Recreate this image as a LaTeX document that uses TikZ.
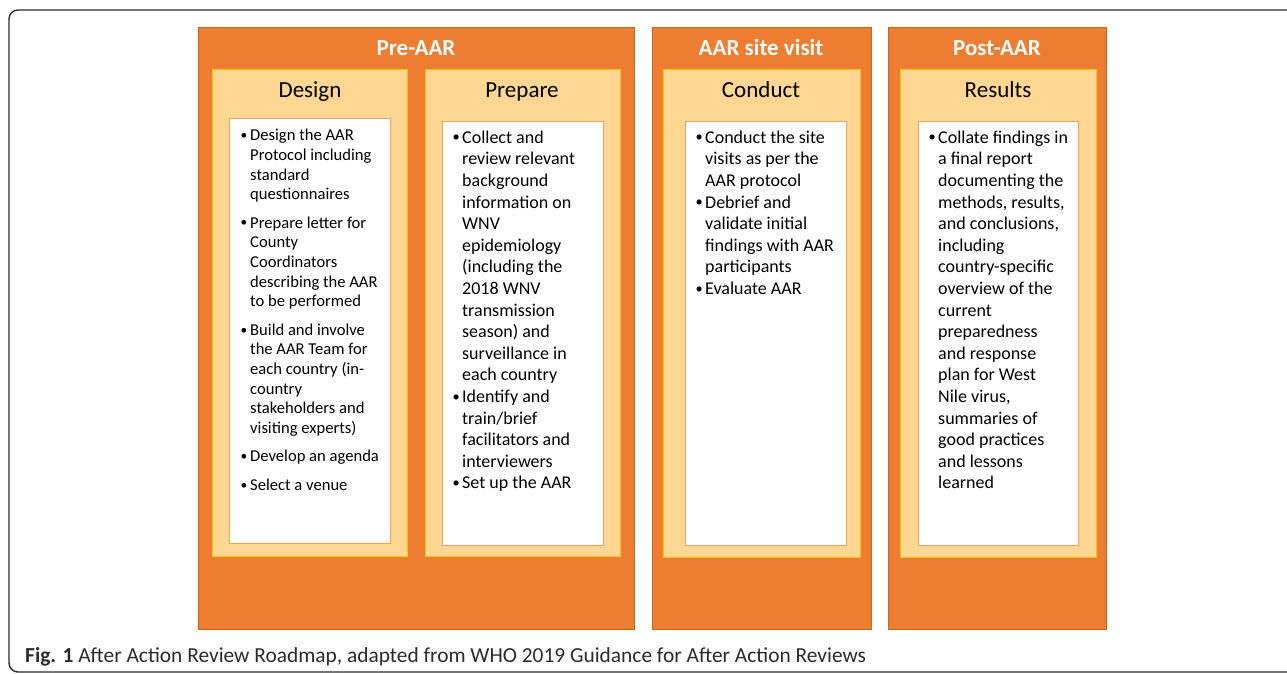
\documentclass[tikz,border=0pt]{standalone}
\usepackage{fontspec}
\usepackage{graphicx}
\setmainfont{Carlito}
\usetikzlibrary{positioning}

\definecolor{phasefill}{HTML}{ED7D31}
\definecolor{phaseline}{HTML}{C8651E}
\definecolor{stagefill}{HTML}{FED893}
\definecolor{stageline}{HTML}{FFC000}
\definecolor{listline}{HTML}{F4A062}
\definecolor{framegray}{HTML}{2B2B2B}

\newcommand{\bl}{\strut\makebox[9.5pt][l]{\raisebox{0.07em}{\scalebox{0.8}{\textbullet}}}}
\newcommand{\ind}{\hspace*{9.5pt}}

\begin{document}
\begin{tikzpicture}[x=1pt, y=-1pt,
	phasebox/.style={draw=phaseline, fill=phasefill, line width=1pt, inner sep=0pt, anchor=north west},
	stagebox/.style={draw=stageline, fill=stagefill, line width=1pt, inner sep=0pt, anchor=north west},
	listbox/.style={draw=listline, fill=white, line width=1pt, inner sep=0pt, anchor=north west},
	phasetitle/.style={anchor=base, inner sep=0pt, text=white, font=\fontsize{23}{27}\selectfont\bfseries},
	stagetitle/.style={anchor=base, inner sep=0pt, text=black, font=\fontsize{23}{27}\selectfont},
	listtext/.style={anchor=north west, inner sep=0pt, align=left, font=\fontsize{18}{21.6}\selectfont},
	]
	
	\useasboundingbox (0,0) rectangle (1287,674);
	\draw[framegray, line width=1.4pt, rounded corners=9pt] (1320,10) -- (9,10) -- (9,672) -- (1320,672);
	
	% phases
	\node[phasebox, minimum width=436pt, minimum height=602pt] (pre) at (198,27) {};
	\node[phasebox, minimum width=219pt, minimum height=602pt] (visit) at (652,27) {};
	\node[phasebox, minimum width=218pt, minimum height=602pt] (post) at (888,27) {};
	
	\node[phasetitle] (pretitle) at (416,55.7) {Pre-AAR};
	\node[phasetitle] (visittitle) at (761,55.7) {AAR site visit};
	\node[phasetitle] (posttitle) at (997,55.7) {Post-AAR};
	
	% stages
	\node[stagebox, minimum width=195pt, minimum height=487pt] (design) at (212,69) {};
	\node[stagebox, minimum width=195pt, minimum height=487pt] (prepare) at (425,69) {};
	\node[stagebox, minimum width=197pt, minimum height=488pt] (conduct) at (663,69) {};
	\node[stagebox, minimum width=196pt, minimum height=488pt] (results) at (900,69) {};
	
	\node[stagetitle] (designtitle) at (310,97.3) {Design};
	\node[stagetitle] (preparetitle) at (522,97.3) {Prepare};
	\node[stagetitle] (conducttitle) at (761,97.3) {Conduct};
	\node[stagetitle] (resultstitle) at (998,97.3) {Results};
	
	\node[listbox, minimum width=161pt, minimum height=425pt] (designlist) at (229,118) {};
	\node[listbox, minimum width=161pt, minimum height=424pt] (preparelist) at (442,121) {};
	\node[listbox, minimum width=161pt, minimum height=424pt] (conductlist) at (685,121) {};
	\node[listbox, minimum width=160pt, minimum height=424pt] (resultslist) at (918,121) {};
	
	% bullet texts
	\node[listtext, font=\fontsize{16.6}{19.7}\selectfont] (designtext) at (240.5,126.7)
	{\bl Design the AAR\\ \ind Protocol including\\ \ind standard\\ \ind questionnaires\\[8.6pt]
	 \bl Prepare letter for\\ \ind County\\ \ind Coordinators\\ \ind describing the AAR\\ \ind to be performed\\[8.6pt]
	 \bl Build and involve\\ \ind the AAR Team for\\ \ind each country (in-\\ \ind country\\ \ind stakeholders and\\ \ind visiting experts)\\[8.6pt]
	 \bl Develop an agenda\\[8.6pt]
	 \bl Select a venue};
	
	\node[listtext] (preparetext) at (452.5,127.9)
	{\bl Collect and\\ \ind review relevant\\ \ind background\\ \ind information on\\ \ind WNV\\ \ind epidemiology\\ \ind (including the\\ \ind 2018 WNV\\ \ind transmission\\ \ind season) and\\ \ind surveillance in\\ \ind each country\\
	 \bl Identify and\\ \ind train/brief\\ \ind facilitators and\\ \ind interviewers\\
	 \bl Set up the AAR};
	
	\node[listtext] (conducttext) at (695.5,127.9)
	{\bl Conduct the site\\ \ind visits as per the\\ \ind AAR protocol\\
	 \bl Debrief and\\ \ind validate initial\\ \ind findings with AAR\\ \ind participants\\
	 \bl Evaluate AAR};
	
	\node[listtext] (resultstext) at (928.5,127.9)
	{\bl Collate findings in\\ \ind a final report\\ \ind documenting the\\ \ind methods, results,\\ \ind and conclusions,\\ \ind including\\ \ind country-specific\\ \ind overview of the\\ \ind current\\ \ind preparedness\\ \ind and response\\ \ind plan for West\\ \ind Nile virus,\\ \ind summaries of\\ \ind good practices\\ \ind and lessons\\ \ind learned};
	
	% caption
	\node[anchor=base west, inner sep=0pt, text=framegray, font=\fontsize{21.4}{25}\selectfont] (caption) at (25,662)
	{\textbf{Fig. 1} After Action Review Roadmap, adapted from WHO 2019 Guidance for After Action Reviews};
	
\end{tikzpicture}
\end{document}
